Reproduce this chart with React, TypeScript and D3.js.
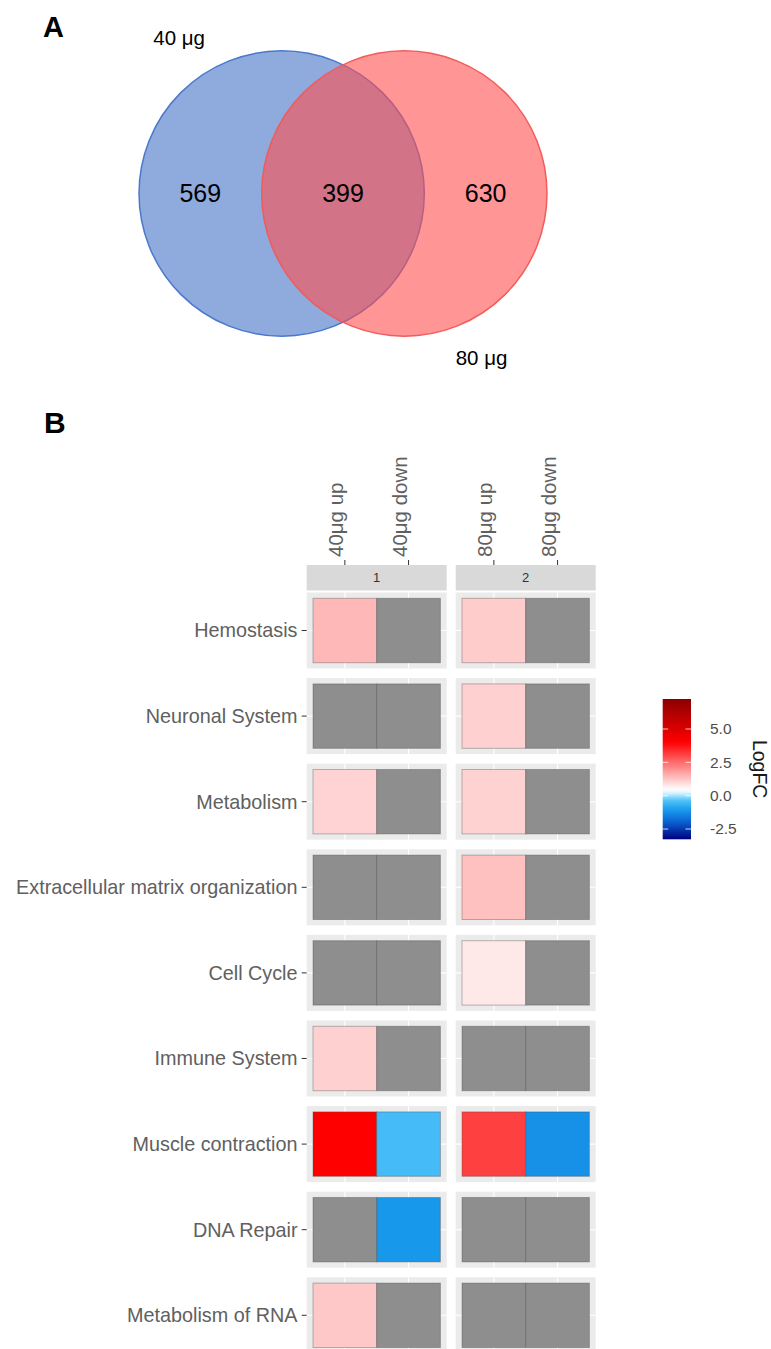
import React, { useEffect, useRef } from 'react';
import * as d3 from 'd3';

// Venn counts: only 40 µg, shared, only 80 µg
const vennSets = ['40 μg', '80 μg'];
const vennCounts = [569, 399, 630];

// Heatmap rows / columns
const pathways = [
  'Hemostasis',
  'Neuronal System',
  'Metabolism',
  'Extracellular matrix organization',
  'Cell Cycle',
  'Immune System',
  'Muscle contraction',
  'DNA Repair',
  'Metabolism of RNA',
];
const facets = ['1', '2'];
const conditions = [
  ['40μg up', '40μg down'],
  ['80μg up', '80μg down'],
];

// LogFC values (null = not significant, drawn grey)
const logfc40up = [1.44, null, 1.06, null, null, 1.1, 4.0, null, 1.22];
const logfc40down = [null, null, null, null, null, null, -0.5, -1.1, null];
const logfc80up = [1.16, 1.1, 1.08, 1.33, 0.77, null, 3.11, null, null];
const logfc80down = [null, null, null, null, null, null, -1.2, null, null];

const logfcRange = [-3.27, 7.25];
const legendTicks = [-2.5, 0, 2.5, 5];
const stopValues = [-3.27, -2.0, -1.0, -0.3, 0.15, 0.45, 4.0, 7.25];
const stopColors = ['#00007f', '#0a5fcf', '#1a9eee', '#56c6fa', '#cdefff', '#ffffff', '#ff0000', '#8b0000'];

const FONT = 'Liberation Sans, Arial, sans-serif';

function App() {
  const svgRef = useRef<SVGSVGElement>(null);

  useEffect(() => {
    const svg = d3.select(svgRef.current);
    svg.selectAll('*').remove();

    // ---------- Panel A: Venn ----------
    const vx = d3.scaleLinear().domain([-1.43, 1.43]).range([139, 547]);
    const vy = d3.scaleLinear().domain([-1, 1]).range([50, 337]);
    const r = vx(1) - vx(0);

    svg.append('text')
      .attr('x', 43).attr('y', 37)
      .attr('font-family', FONT).attr('font-weight', 'bold').attr('font-size', 29)
      .text('A');

    const circles = [
      { cx: -0.43, fill: '#4472c4', stroke: '#4a78cc' },
      { cx: 0.43, fill: '#ff4f4f', stroke: '#f25b5b' },
    ];
    svg.append('g').selectAll('circle')
      .data(circles)
      .enter()
      .append('circle')
      .attr('cx', d => vx(d.cx))
      .attr('cy', vy(0))
      .attr('r', r)
      .attr('fill', d => d.fill)
      .attr('fill-opacity', 0.6)
      .attr('stroke', d => d.stroke)
      .attr('stroke-width', 1.5);

    svg.append('g').selectAll('text')
      .data(vennCounts)
      .enter()
      .append('text')
      .attr('x', (d, i) => vx(i - 1))
      .attr('y', vy(0) + 8)
      .attr('text-anchor', 'middle')
      .attr('font-family', FONT)
      .attr('font-size', 25)
      .text(d => d);

    const setLabelPos = [[-1.33, -1.035], [0.79, 1.195]];
    svg.append('g').selectAll('text')
      .data(vennSets)
      .enter()
      .append('text')
      .attr('x', (d, i) => vx(setLabelPos[i][0]))
      .attr('y', (d, i) => vy(setLabelPos[i][1]))
      .attr('font-family', FONT)
      .attr('font-size', 20.5)
      .text(d => d);

    // ---------- Panel B: heatmap ----------
    svg.append('text')
      .attr('x', 44).attr('y', 433)
      .attr('font-family', FONT).attr('font-weight', 'bold').attr('font-size', 30)
      .text('B');

    const values = [[logfc40up, logfc40down], [logfc80up, logfc80down]];
    const color = d3.scaleLinear<string>()
      .domain(stopValues)
      .range(stopColors)
      .interpolate(d3.interpolateRgb)
      .clamp(true);

    const yBand = d3.scaleBand().domain(pathways).range([592.5, 1353.3]).paddingInner(0.112);
    const fBand = d3.scaleBand().domain(facets).range([306.7, 595.7]).paddingInner(9 / 149);
    const padX = 6.3;
    const padY = 5.8;
    const stripTop = 565;
    const stripBottom = 590.5;
    const axisText = '#606060';

    const heat = svg.append('g');

    facets.forEach((f, fi) => {
      const fx = fBand(f)!;
      const fw = fBand.bandwidth();
      const xb = d3.scaleBand().domain(conditions[fi]).range([fx + padX, fx + fw - padX]);

      // strip
      heat.append('rect')
        .attr('x', fx).attr('y', stripTop)
        .attr('width', fw).attr('height', stripBottom - stripTop)
        .attr('fill', '#d9d9d9');
      heat.append('text')
        .attr('x', fx + fw / 2).attr('y', (stripTop + stripBottom) / 2)
        .attr('dy', '0.36em')
        .attr('text-anchor', 'middle')
        .attr('font-family', FONT).attr('font-size', 13)
        .attr('fill', '#333')
        .text(f);

      // x ticks + labels
      conditions[fi].forEach(c => {
        const cx = xb(c)! + xb.bandwidth() / 2;
        heat.append('line')
          .attr('x1', cx).attr('x2', cx)
          .attr('y1', stripTop - 5).attr('y2', stripTop)
          .attr('stroke', '#333').attr('stroke-width', 1);
        heat.append('text')
          .attr('transform', `translate(${cx - 2},${stripTop - 8}) rotate(-90)`)
          .attr('text-anchor', 'start')
          .attr('font-family', FONT).attr('font-size', 20.5)
          .attr('fill', axisText)
          .text(c);
      });

      pathways.forEach((p, pi) => {
        const py = yBand(p)!;
        const ph = yBand.bandwidth();
        const g = heat.append('g');
        g.append('rect')
          .attr('x', fx).attr('y', py)
          .attr('width', fw).attr('height', ph)
          .attr('fill', '#ebebeb');
        // grid lines
        g.append('line')
          .attr('x1', fx).attr('x2', fx + fw)
          .attr('y1', py + ph / 2).attr('y2', py + ph / 2)
          .attr('stroke', '#fff').attr('stroke-width', 1.1);
        conditions[fi].forEach(c => {
          const cx = xb(c)! + xb.bandwidth() / 2;
          g.append('line')
            .attr('x1', cx).attr('x2', cx)
            .attr('y1', py).attr('y2', py + ph)
            .attr('stroke', '#fff').attr('stroke-width', 1.1);
        });
        // tiles
        g.selectAll('rect.tile')
          .data(conditions[fi].map((c, ci) => ({ c, v: values[fi][ci][pi] })))
          .enter()
          .append('rect')
          .attr('class', 'tile')
          .attr('x', d => xb(d.c)!)
          .attr('y', py + padY)
          .attr('width', xb.bandwidth())
          .attr('height', ph - 2 * padY)
          .attr('fill', d => (d.v === null ? '#8e8e8e' : color(d.v)))
          .attr('stroke', '#404040')
          .attr('stroke-opacity', 0.35)
          .attr('stroke-width', 1);
      });
    });

    // y axis ticks + labels
    pathways.forEach(p => {
      const cy = yBand(p)! + yBand.bandwidth() / 2;
      heat.append('line')
        .attr('x1', 301.7).attr('x2', 306.7)
        .attr('y1', cy).attr('y2', cy)
        .attr('stroke', '#333').attr('stroke-width', 1);
      heat.append('text')
        .attr('x', 297.5).attr('y', cy)
        .attr('dy', '0.35em')
        .attr('text-anchor', 'end')
        .attr('font-family', FONT).attr('font-size', 19.8)
        .attr('fill', axisText)
        .text(p);
    });

    // ---------- Legend ----------
    const legX = 662.7;
    const legW = 28.3;
    const ly = d3.scaleLinear().domain(logfcRange).range([839.3, 699]);

    const defs = svg.append('defs');
    const grad = defs.append('linearGradient')
      .attr('id', 'logfc-grad')
      .attr('x1', 0).attr('x2', 0).attr('y1', 1).attr('y2', 0);
    d3.range(0, 41).forEach(i => {
      const v = logfcRange[0] + (logfcRange[1] - logfcRange[0]) * i / 40;
      grad.append('stop')
        .attr('offset', `${(i / 40) * 100}%`)
        .attr('stop-color', color(v));
    });
    svg.append('rect')
      .attr('x', legX).attr('y', ly(logfcRange[1]))
      .attr('width', legW).attr('height', ly(logfcRange[0]) - ly(logfcRange[1]))
      .attr('fill', 'url(#logfc-grad)');

    const lt = svg.append('g');
    legendTicks.forEach(t => {
      lt.append('line')
        .attr('x1', legX).attr('x2', legX + 5.5)
        .attr('y1', ly(t)).attr('y2', ly(t))
        .attr('stroke', '#fff').attr('stroke-opacity', 0.8);
      lt.append('line')
        .attr('x1', legX + legW - 5.5).attr('x2', legX + legW)
        .attr('y1', ly(t)).attr('y2', ly(t))
        .attr('stroke', '#fff').attr('stroke-opacity', 0.8);
      lt.append('text')
        .attr('x', 710).attr('y', ly(t))
        .attr('dy', '0.35em')
        .attr('font-family', FONT).attr('font-size', 15.5)
        .attr('fill', '#4d4d4d')
        .text(t.toFixed(1));
    });

    svg.append('text')
      .attr('transform', `translate(753,${(ly(logfcRange[0]) + ly(logfcRange[1])) / 2}) rotate(90)`)
      .attr('text-anchor', 'middle')
      .attr('font-family', FONT).attr('font-size', 19.5)
      .attr('fill', '#1a1a1a')
      .text('LogFC');
  }, []);

  return (
    <svg
      ref={svgRef}
      width={771}
      height={1349}
      style={{ position: 'absolute', left: 0, top: 0, background: '#fff' }}
    />
  );
}

export default App;
